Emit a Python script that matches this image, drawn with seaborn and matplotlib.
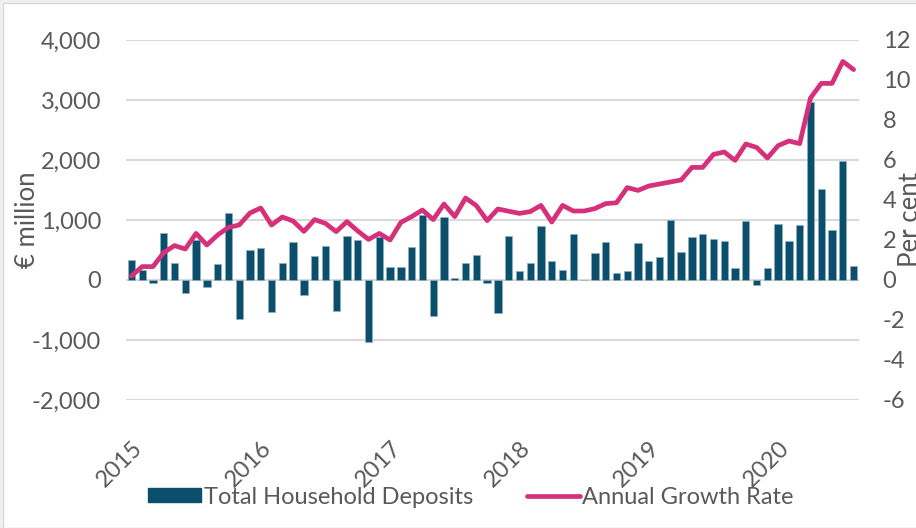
import numpy as np
import pandas as pd
import matplotlib.pyplot as plt
import matplotlib.ticker as mticker
from matplotlib.patches import Rectangle
from matplotlib.lines import Line2D
from matplotlib.patches import Patch
import seaborn as sns

# monthly data, Jan 2015 - Aug 2020
deposits = [333, 170, -55, 789, 278, -222, 670, -122, 267, 1122, -650, 500,
            528, -539, 278, 633, -244, 400, 561, -517, 733, 667, -1039, 711,
            211, 211, 544, 1078, -594, 1044, 33, 278, 417, -44, -544, 728,
            144, 278, 894, 317, 161, 772, 0, 456, 633, 122, 144, 617,
            322, 389, 1000, 467, 722, 761, 683, 650, 200, 978, -78, 200,
            939, 656, 922, 2967, 1511, 839, 1978, 239]
growth = [0.2, 0.67, 0.67, 1.37, 1.72, 1.55, 2.33, 1.75, 2.25, 2.63, 2.75, 3.35,
          3.6, 2.75, 3.15, 2.95, 2.43, 3.02, 2.83, 2.42, 2.92, 2.45, 2.03, 2.33,
          2.0, 2.88, 3.17, 3.5, 3.02, 3.8, 3.17, 4.1, 3.72, 2.97, 3.55, 3.44,
          3.33, 3.42, 3.73, 2.9, 3.73, 3.45, 3.45, 3.57, 3.82, 3.86, 4.62, 4.48,
          4.7, 4.8, 4.9, 5.0, 5.63, 5.63, 6.28, 6.4, 5.98, 6.8, 6.63, 6.1,
          6.72, 6.95, 6.82, 9.1, 9.83, 9.83, 10.93, 10.52]
year_labels = ['2015', '2016', '2017', '2018', '2019', '2020']

bar_col = '#0b4f6c'
line_col = '#d6307a'
text_col = '#595959'
grid_col = '#d9d9d9'
fs = 17

df = pd.DataFrame({'idx': np.arange(len(deposits)), 'deposits': deposits, 'growth': growth})

sns.set_style('white')
plt.rcParams['font.family'] = ['Lato', 'DejaVu Sans']
plt.rcParams['axes.unicode_minus'] = False

W, H = 916, 528
fig = plt.figure(figsize=(W / 100, H / 100), dpi=100, facecolor='#f0f0f0')
fig.patches.append(Rectangle((3 / W, 0), 1, (H - 3) / H, transform=fig.transFigure,
                             facecolor='white', edgecolor=grid_col, linewidth=1, zorder=-1))

ax = fig.add_axes([126 / W, 128 / H, 733 / W, 360 / H])
ax.patch.set_alpha(0)
sns.barplot(data=df, x='idx', y='deposits', color=bar_col, width=0.68, saturation=1,
            edgecolor='#8fb0c0', linewidth=0.5, ax=ax, zorder=3)
ax.set_xlim(-0.5, len(deposits) - 0.5)
ax.set_ylim(-2000, 4000)
ax.set_yticks(range(-2000, 4001, 1000))
ax.yaxis.set_major_formatter(mticker.FuncFormatter(lambda v, p: f"{v:,.0f}"))
ax.grid(axis='y', color=grid_col, linewidth=1.5, zorder=0)
ax.set_axisbelow(True)
ax.set_xticks(range(0, 61, 12))
ax.set_xticklabels(year_labels, rotation=45, ha='right', rotation_mode='anchor')
ax.set_xlabel('')
ax.set_ylabel('€ million', fontsize=18.5, color=text_col, labelpad=-6)
ax.tick_params(axis='both', length=0, labelsize=fs, labelcolor=text_col)
ax.tick_params(axis='y', pad=18)
ax.tick_params(axis='x', pad=27)
for s in ax.spines.values():
    s.set_visible(False)

ax2 = ax.twinx()
sns.lineplot(data=df, x='idx', y='growth', color=line_col, linewidth=3.4, ax=ax2, zorder=4)
ax2.set_ylim(-6, 12)
ax2.set_yticks(range(-6, 13, 2))
ax2.set_ylabel('Per cent', fontsize=18.5, color=text_col, labelpad=-9)
ax2.tick_params(axis='y', length=0, labelsize=fs, labelcolor=text_col, pad=17)
ax2.set_xlim(-0.5, len(deposits) - 0.5)
for s in ax2.spines.values():
    s.set_visible(False)

handles = [Patch(facecolor=bar_col, edgecolor=bar_col),
           Line2D([0], [0], color=line_col, linewidth=3.4)]
fig.legend(handles, ['Total Household Deposits', 'Annual Growth Rate'],
           loc='center', bbox_to_anchor=(471 / W, 1 - 497 / H), ncol=2, frameon=False,
           fontsize=fs, labelcolor=text_col, handlelength=2.25, handleheight=0.55,
           handletextpad=0.1, columnspacing=2.28)

fig.savefig('out.png', dpi=100, facecolor=fig.get_facecolor())
